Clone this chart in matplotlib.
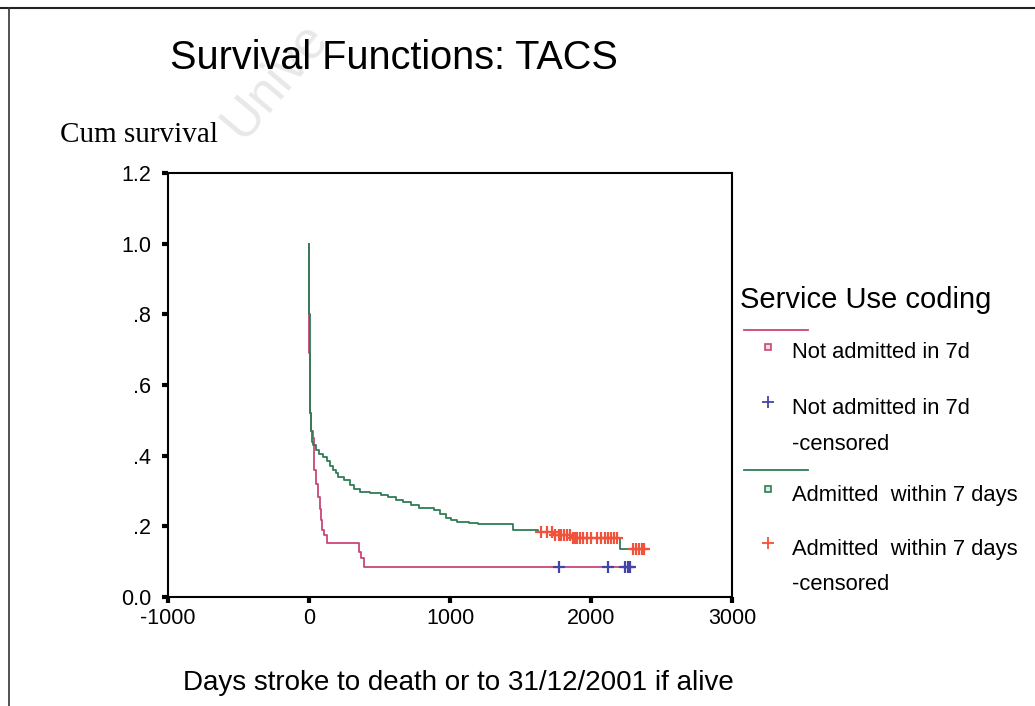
import numpy as np
import matplotlib
matplotlib.use("Agg")
import matplotlib.pyplot as plt
from matplotlib.lines import Line2D

# Kaplan-Meier steps (days, cumulative survival)
not_adm_days = [0, 1, 4, 8, 15, 26, 35, 50, 62, 75, 85, 95, 106, 126, 355, 368, 390, 2290]
not_adm_surv = [1.0, 0.69, 0.6, 0.52, 0.47, 0.45, 0.36, 0.32, 0.284, 0.25, 0.218, 0.19,
                0.175, 0.153, 0.128, 0.11, 0.085, 0.085]
not_adm_cens = [1770, 2118, 2240, 2265, 2280]

adm_days = [0, 1, 2, 4, 6, 9, 13, 20, 30, 52, 74, 100, 128, 150, 169, 190, 209, 250, 291,
            320, 359, 430, 508, 560, 617, 670, 723, 780, 887, 930, 969, 1010, 1050, 1132,
            1200, 1445, 1621, 1729, 1865, 2204, 2381]
adm_surv = [1.0, 0.9, 0.8, 0.7, 0.6, 0.52, 0.47, 0.44, 0.43, 0.415, 0.405, 0.395, 0.385,
            0.37, 0.36, 0.35, 0.34, 0.33, 0.317, 0.305, 0.298, 0.295, 0.289, 0.283, 0.275,
            0.268, 0.26, 0.252, 0.246, 0.235, 0.224, 0.218, 0.213, 0.209, 0.206, 0.19,
            0.185, 0.175, 0.167, 0.135, 0.135]
adm_cens = [1645, 1690, 1720, 1745, 1770, 1790, 1810, 1830, 1850, 1870, 1885, 1900, 1920,
            1945, 1970, 2000, 2040, 2070, 2100, 2120, 2140, 2160, 2185, 2300, 2320, 2340,
            2360, 2375]

xticks = [-1000, 0, 1000, 2000, 3000]
yticks = [0.0, 0.2, 0.4, 0.6, 0.8, 1.0, 1.2]
ytick_labels = ["0.0", ".2", ".4", ".6", ".8", "1.0", "1.2"]

pink = "#c9457a"
green = "#2f7d55"
blue = "#4444a8"
red = "#f0523c"

W, H = 1035, 706
plt.rcParams["font.family"] = ["Liberation Sans", "DejaVu Sans"]
plt.rcParams["axes.unicode_minus"] = False
fig = plt.figure(figsize=(W / 100, H / 100), dpi=100)


def fx(px):
    return px / W


def fy(py):
    return 1 - py / H


def surv_at(days, surv, t):
    idx = np.searchsorted(days, t, side="right") - 1
    return np.array(surv)[idx]


ax = fig.add_axes([fx(168), fy(597), fx(732) - fx(168), fy(173) - fy(597)])
ax.plot(not_adm_days, not_adm_surv, drawstyle="steps-post", color=pink, lw=1.3)
ax.plot(adm_days, adm_surv, drawstyle="steps-post", color=green, lw=1.3)
ax.plot(adm_cens, surv_at(adm_days, adm_surv, adm_cens), ls="none", marker="+",
        ms=8, mew=1.6, color=red)
ax.plot(not_adm_cens, surv_at(not_adm_days, not_adm_surv, not_adm_cens), ls="none",
        marker="+", ms=8, mew=1.6, color=blue)

ax.set_xlim(-1000, 3000)
ax.set_ylim(0, 1.2)
ax.set_xticks(xticks)
ax.set_yticks(yticks)
ax.set_yticklabels(ytick_labels)
ax.tick_params(labelsize=15.5, length=4, width=3, direction="out", color="black")
ax.tick_params(axis="y", pad=8)
ax.tick_params(axis="x", pad=4)
for s in ax.spines.values():
    s.set_linewidth(1.5)
    s.set_color("black")

# titles
fig.text(fx(170), fy(58), "Survival Functions: TACS", fontsize=28.5, va="center", ha="left")
fig.text(fx(60), fy(135), "Cum survival", fontsize=21, family=["Liberation Serif"],
         va="center", ha="left")
fig.text(fx(458), fy(683), "Days stroke to death or to 31/12/2001 if alive", fontsize=20,
         va="center", ha="center")

# faint watermark
fig.text(fx(275), fy(80), "Unive", fontsize=38, color="#e8e8e8", rotation=50,
         ha="center", va="center", zorder=-1)

# figure border (top and left)
fig.add_artist(Line2D([0, 1], [fy(8), fy(8)], color="#222222", lw=1.5))
fig.add_artist(Line2D([fx(9), fx(9)], [0, fy(8)], color="#333333", lw=1.2))

# legend drawn by hand
fig.text(fx(740), fy(300), "Service Use coding", fontsize=21, va="center", ha="left")
items = [
    ("line", pink, 330, None),
    ("s", pink, 353, "Not admitted in 7d"),
    ("+", blue, 408, "Not admitted in 7d"),
    (None, None, 445, "-censored"),
    ("line", green, 470, None),
    ("s", green, 495, "Admitted  within 7 days"),
    ("+", red, 549, "Admitted  within 7 days"),
    (None, None, 585, "-censored"),
]
for kind, col, py, label in items:
    if kind == "line":
        fig.add_artist(Line2D([fx(744), fx(808)], [fy(py), fy(py)], color=col, lw=1.3))
    elif kind == "s":
        fig.add_artist(Line2D([fx(768)], [fy(py - 6)], marker="s", ms=5,
                              mfc="#f4dde6" if col == pink else "#dcefe2",
                              mec=col, mew=1.2, ls="none"))
    elif kind == "+":
        fig.add_artist(Line2D([fx(768)], [fy(py - 6)], marker="+", ms=9, mew=1.3,
                              color=col, ls="none"))
    if label:
        fig.text(fx(792), fy(py), label, fontsize=15.8, va="center", ha="left")

fig.savefig("out.png", dpi=100)
